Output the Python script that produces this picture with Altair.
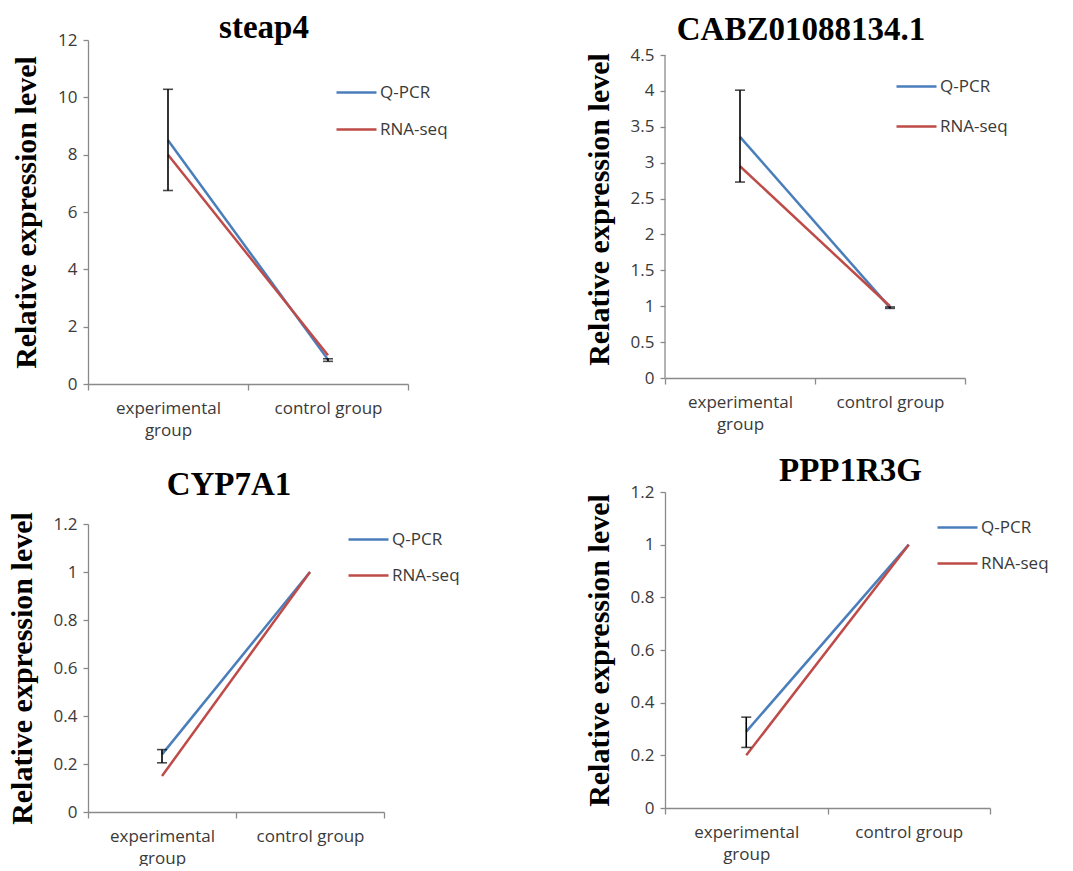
import altair as alt
import pandas as pd

groups = ["experimental group", "control group"]
series = ["Q-PCR", "RNA-seq"]
colors = ["#4A7EBB", "#BE4B48"]

genes = ["steap4", "CABZ01088134.1", "CYP7A1", "PPP1R3G"]

# values per gene: [experimental, control]
qpcr_steap4 = [8.5, 0.85]
rna_steap4 = [8.0, 1.0]
err_groups_steap4 = ["experimental group", "control group"]
qpcr_lo_steap4 = [6.75, 0.79]
qpcr_hi_steap4 = [10.28, 0.88]

qpcr_cabz = [3.36, 0.98]
rna_cabz = [2.95, 1.0]
err_groups_cabz = ["experimental group", "control group"]
qpcr_lo_cabz = [2.73, 0.97]
qpcr_hi_cabz = [4.01, 0.99]

qpcr_cyp = [0.24, 1.0]
rna_cyp = [0.15, 1.0]
err_groups_cyp = ["experimental group"]
qpcr_lo_cyp = [0.205]
qpcr_hi_cyp = [0.26]

qpcr_ppp = [0.29, 1.0]
rna_ppp = [0.20, 1.0]
err_groups_ppp = ["experimental group"]
qpcr_lo_ppp = [0.23]
qpcr_hi_ppp = [0.345]

yticks_steap4 = [0, 2, 4, 6, 8, 10, 12]
yticks_cabz = [0, 0.5, 1, 1.5, 2, 2.5, 3, 3.5, 4, 4.5]
yticks_small = [0, 0.2, 0.4, 0.6, 0.8, 1, 1.2]

LABEL_FONT = "Open Sans"
TEXT_COLOR = "#3a3a3a"
AXIS_COLOR = "#8a8a8a"
YTITLE = "Relative expression level"


def panel(gene, q, r, eg, lo, hi, yticks, w, h, legx, legy, rowpad,
          toff, tdx, tdy=0, extra_top=0):
    lines_df = pd.DataFrame(
        {
            "group": groups * 2,
            "series": [series[0]] * 2 + [series[1]] * 2,
            "value": list(q) + list(r),
        }
    )
    err_df = pd.DataFrame({"group": eg, "lo": lo, "hi": hi})

    xenc = alt.X(
        "group:N",
        sort=groups,
        scale=alt.Scale(type="band", paddingInner=0, paddingOuter=0),
        axis=alt.Axis(
            title=None,
            labelAngle=0,
            tickBand="extent",
            labelExpr="datum.label == 'experimental group' ? ['experimental', 'group'] : datum.label",
            labelLineHeight=22,
            labelPadding=10,
            tickSize=6,
        ),
    )
    # extra_top: empty room above the top tick (pixels) so this plot can sit
    # lower than its neighbour in the same row
    ymax = yticks[-1] * (h + extra_top) / h
    yscale = alt.Scale(domain=[yticks[0], ymax], nice=False, zero=True)
    yaxis = alt.Axis(
        title=YTITLE,
        values=yticks,
        format="~g",
        tickSize=5,
        labelPadding=6,
        labelOverlap=False,
        titlePadding=16,
        titleFont="Liberation Serif",
        titleFontSize=30,
        titleFontWeight="bold",
        titleColor="black",
        domain=(extra_top == 0),
    )

    def yenc(field):
        return alt.Y(field, scale=yscale, axis=yaxis, title=YTITLE)

    lines = (
        alt.Chart(lines_df)
        .mark_line(strokeWidth=2.5)
        .encode(
            x=xenc,
            y=yenc("value:Q"),
            color=alt.Color(
                "series:N",
                sort=series,
                scale=alt.Scale(domain=series, range=colors),
                legend=alt.Legend(
                    title=None,
                    orient="none",
                    legendX=legx,
                    legendY=legy,
                    symbolType="stroke",
                    symbolSize=1600,
                    symbolStrokeWidth=2.5,
                    labelFont=LABEL_FONT,
                    labelFontSize=17,
                    labelColor=TEXT_COLOR,
                    labelOffset=2,
                    rowPadding=rowpad,
                    padding=0,
                ),
            ),
        )
    )
    rule = (
        alt.Chart(err_df)
        .mark_rule(color="black", strokeWidth=1.6)
        .encode(x=xenc, y=yenc("lo:Q"), y2="hi:Q")
    )
    cap_lo = (
        alt.Chart(err_df)
        .mark_tick(color="black", thickness=1.6, size=10, orient="horizontal")
        .encode(x=xenc, y=yenc("lo:Q"))
    )
    cap_hi = (
        alt.Chart(err_df)
        .mark_tick(color="black", thickness=1.6, size=10, orient="horizontal")
        .encode(x=xenc, y=yenc("hi:Q"))
    )
    layers = [lines, rule, cap_lo, cap_hi]
    if extra_top:
        axis_df = pd.DataFrame({"a0": [yticks[0]], "a1": [yticks[-1]]})
        axis_line = (
            alt.Chart(axis_df)
            .mark_rule(color=AXIS_COLOR, strokeWidth=1.3)
            .encode(x=alt.value(0), y=yenc("a0:Q"), y2="a1:Q")
        )
        layers.append(axis_line)
    return alt.layer(*layers).properties(
        width=w,
        height=h + extra_top,
        title=alt.TitleParams(
            gene,
            font="Liberation Serif",
            fontSize=33,
            fontWeight="bold",
            color="black",
            anchor="middle",
            frame="group",
            offset=toff,
            dx=tdx,
            dy=tdy,
        ),
    )


p1 = panel(genes[0], qpcr_steap4, rna_steap4, err_groups_steap4, qpcr_lo_steap4,
           qpcr_hi_steap4, yticks_steap4, 320, 344, 247, 31, 7, 0, 16, 14)
p2 = panel(genes[1], qpcr_cabz, rna_cabz, err_groups_cabz, qpcr_lo_cabz,
           qpcr_hi_cabz, yticks_cabz, 300, 323, 230, 25, 10, 0, -14, 7, 15)
p3 = panel(genes[2], qpcr_cyp, rna_cyp, err_groups_cyp, qpcr_lo_cyp,
           qpcr_hi_cyp, yticks_small, 296, 288, 259, -6, 6, 10, -7)
p4 = panel(genes[3], qpcr_ppp, rna_ppp, err_groups_ppp, qpcr_lo_ppp,
           qpcr_hi_ppp, yticks_small, 325, 316, 271, 14, 6, 0, 23, 5)

col1 = alt.vconcat(p1, p3, spacing=30).resolve_scale(color="independent").resolve_legend(color="independent")
col2 = alt.vconcat(p2, p4, spacing=23).resolve_scale(color="independent").resolve_legend(color="independent")

chart = (
    alt.hconcat(col1, col2, spacing=124)
    .resolve_scale(color="independent")
    .resolve_legend(color="independent")
    .properties(padding={"left": 7, "top": 12, "right": 5, "bottom": 0}, background="white")
    .configure_view(stroke=None)
    .configure_axis(
        grid=False,
        domainColor=AXIS_COLOR,
        tickColor=AXIS_COLOR,
        domainWidth=1.3,
        tickWidth=1.3,
        labelFont=LABEL_FONT,
        labelFontSize=17,
        labelColor=TEXT_COLOR,
    )
)

chart.save("out.html", embed_options={"renderer": "svg", "actions": False})
